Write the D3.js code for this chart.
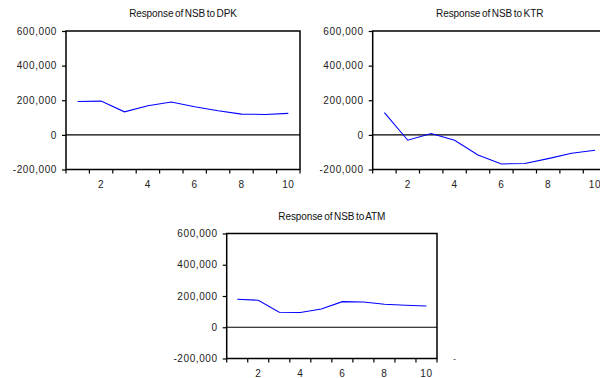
<!DOCTYPE html>
<html>
<head>
<meta charset="utf-8">
<script src="https://cdn.jsdelivr.net/npm/d3@7"></script>
<style>
  body { margin: 0; background: #fff; }
  svg { display: block; font-family: "Liberation Sans", Arial, sans-serif; }
  .tick text { font-size: 10px; letter-spacing: 0.6px; fill: #222; }
  .title { font-size: 10px; letter-spacing: -0.1px; word-spacing: -1px; fill: #111; }
</style>
</head>
<body>
<svg id="chart" width="600" height="378"></svg>
<script>
// impulse response periods
var periods = [1, 2, 3, 4, 5, 6, 7, 8, 9, 10];
var xLabels = [2, 4, 6, 8, 10];
var yTicks = [-200000, 0, 200000, 400000, 600000];

// responses of NSB to each shock
var dpk = [193000, 195000, 133000, 168000, 190000, 162000, 139000, 120000, 118000, 124000];
var ktr = [129000, -31000, 8000, -31000, -116000, -168000, -165000, -137000, -106000, -89000];
var atm = [179000, 173000, 96000, 94000, 117000, 164000, 162000, 147000, 141000, 136000];

var titles = ["Response of NSB to DPK", "Response of NSB to KTR", "Response of NSB to ATM"];

var svg = d3.select("#chart");
var fmt = d3.format(",");

function drawPanel(title, values, left, right, top, bottom, dash) {
  var g = svg.append("g");

  var x = d3.scaleBand().domain(periods).range([left, right]).padding(0);
  var y = d3.scaleLinear().domain([-200000, 600000]).range([bottom, top]);

  // x ticks sit on band edges, labels on even band centres
  var edges = periods.map(function(p) { return x(p); }).concat([right]);
  g.selectAll("line.xt").data(edges).enter().append("line")
    .attr("class", "xt")
    .attr("x1", function(d) { return d; }).attr("x2", function(d) { return d; })
    .attr("y1", bottom).attr("y2", bottom + 4)
    .attr("stroke", "#000").attr("stroke-width", 1.2);

  g.selectAll("text.xl").data(xLabels).enter().append("text")
    .attr("class", "xl")
    .attr("x", function(d) { return x(d) + x.bandwidth() / 2; })
    .attr("y", bottom + 18)
    .attr("text-anchor", "middle")
    .style("font-size", "10px").style("letter-spacing", "0.6px").style("fill", "#222")
    .text(function(d) { return d; });

  var yAxis = d3.axisLeft(y).tickValues(yTicks)
    .tickFormat(function(d) { return fmt(d).replace("\u2212", "-"); })
    .tickSize(4).tickPadding(5);
  var ya = g.append("g").attr("transform", "translate(" + left + ",0)").call(yAxis);
  ya.select(".domain").remove();
  ya.selectAll(".tick line").attr("stroke", "#000").attr("stroke-width", 1.2);

  // zero line
  g.append("line")
    .attr("x1", left).attr("x2", right)
    .attr("y1", y(0)).attr("y2", y(0))
    .attr("stroke", "#000").attr("stroke-width", 1.2);

  // frame
  g.append("rect")
    .attr("x", left).attr("y", top)
    .attr("width", right - left).attr("height", bottom - top)
    .attr("fill", "none").attr("stroke", "#000").attr("stroke-width", 1.5);

  var line = d3.line()
    .x(function(d, i) { return x(periods[i]) + x.bandwidth() / 2; })
    .y(function(d) { return y(d); });

  g.append("path").datum(values)
    .attr("d", line)
    .attr("fill", "none").attr("stroke", "#0000ff").attr("stroke-width", 1.1);

  g.append("text").attr("class", "title")
    .attr("x", (left + right) / 2).attr("y", top - 14)
    .attr("text-anchor", "middle")
    .text(title);

  if (dash) {
    g.append("text")
      .attr("x", right + 16).attr("y", bottom + 3)
      .style("font-size", "9px").style("fill", "#444")
      .text("-");
  }
}

drawPanel(titles[0], dpk, 66, 300, 31, 169.5, false);
drawPanel(titles[1], ktr, 372.7, 606.7, 31, 169.5, false);
drawPanel(titles[2], atm, 226.7, 437, 233.5, 358.5, true);
</script>
</body>
</html>
